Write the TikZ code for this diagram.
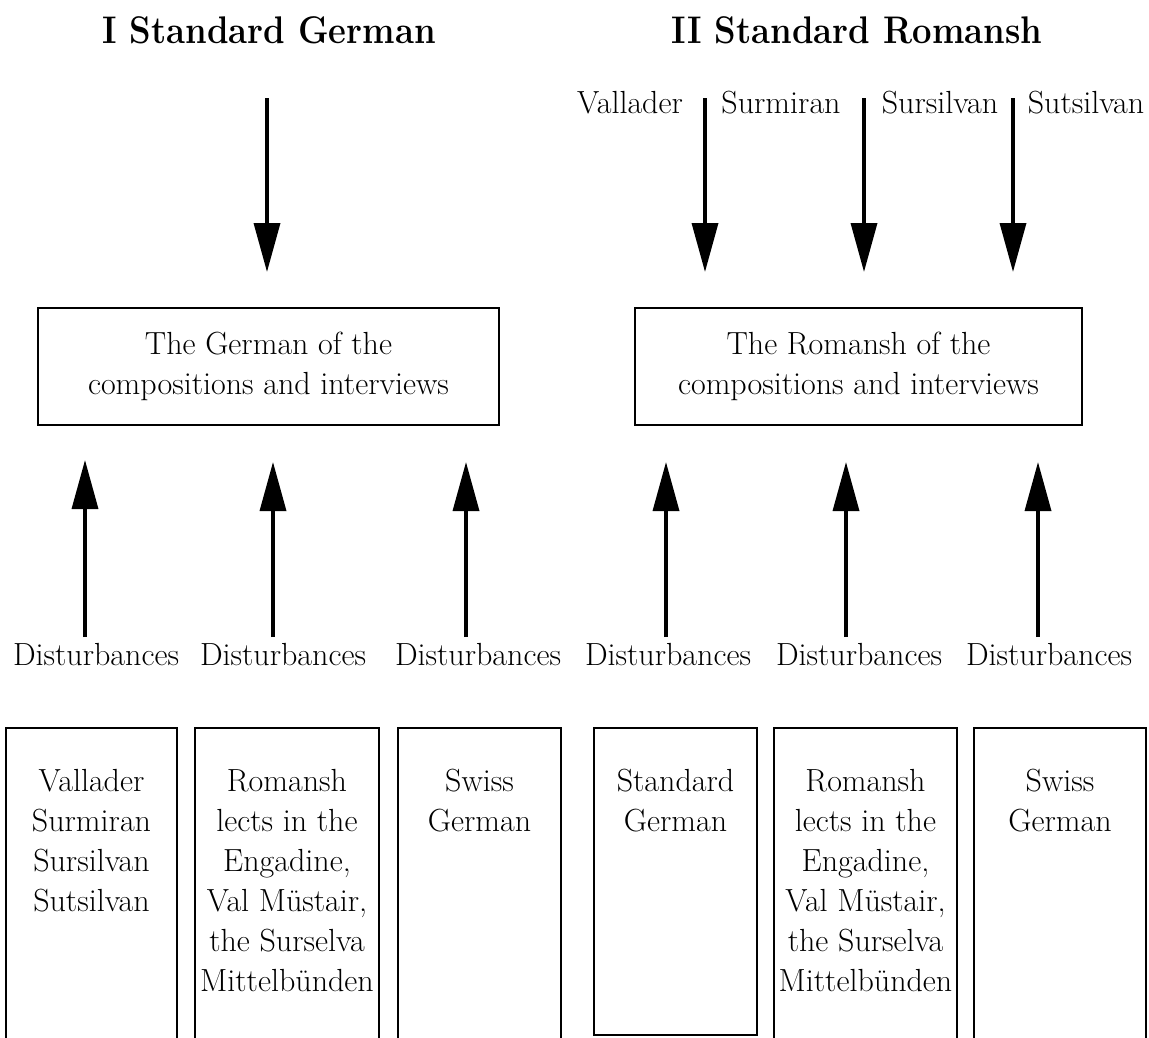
\documentclass[tikz,border=0pt]{standalone}
\usepackage{fontspec}
\usepackage{graphicx}
\usetikzlibrary{arrows.meta}
\tikzset{
  bigarrow/.style={line width=3.5pt, -{Triangle[length=49pt,width=26pt]}},
  boxframe/.style={draw, line width=1.8pt, inner sep=0pt},
  txt/.style={font=\fontsize{32}{40}\selectfont\addfontfeature{FakeBold=0.6}, inner sep=0pt},
  lbl/.style={txt, anchor=base},
  ttl/.style={font=\fontsize{38.5}{44}\selectfont\bfseries, inner sep=0pt, anchor=base},
  midbox/.style={boxframe, txt, align=center, minimum height=117pt},
  lowbox/.style={boxframe, anchor=north},
  lowtext/.style={txt, align=center, anchor=north}
}
\begin{document}
\begin{tikzpicture}[x=1pt,y=-1pt]
\path[use as bounding box, clip] (0,0) rectangle (1149,1037);
\fill[white] (0,0) rectangle (1149,1037);

% titles
\node[ttl] (t1) at (269,43) {\scalebox{0.9}[1]{I Standard German}};
\node[ttl] (t2) at (857,43) {\scalebox{0.9}[1]{II Standard Romansh}};

% top labels (right group)
\node[lbl] (vall) at (630,113) {Vallader};
\node[lbl] (surm) at (781,113) {Surmiran};
\node[lbl] (sursil) at (940,113) {Sursilvan};
\node[lbl] (sutsil) at (1086,113) {Sutsilvan};

% middle boxes
\node[midbox, minimum width=461pt] (gbox) at (268.5,366.5) {The German of the\\compositions and interviews};
\node[midbox, minimum width=447pt] (rbox) at (858.5,366.5) {The Romansh of the\\compositions and interviews};

% top arrows
\coordinate (gs) at (267,98);  \coordinate (ge) at (267,272);
\coordinate (r1s) at (705,98); \coordinate (r1e) at (705,272);
\coordinate (r2s) at (864,98); \coordinate (r2e) at (864,272);
\coordinate (r3s) at (1013,98); \coordinate (r3e) at (1013,272);
\draw[bigarrow] (gs) -- (ge);
\draw[bigarrow] (r1s) -- (r1e);
\draw[bigarrow] (r2s) -- (r2e);
\draw[bigarrow] (r3s) -- (r3e);

% upward arrows
\coordinate (u1s) at (85,637);   \coordinate (u1e) at (85,460);
\coordinate (u2s) at (273,637);  \coordinate (u2e) at (273,462);
\coordinate (u3s) at (466,637);  \coordinate (u3e) at (466,462);
\coordinate (u4s) at (666,637);  \coordinate (u4e) at (666,462);
\coordinate (u5s) at (846,637);  \coordinate (u5e) at (846,462);
\coordinate (u6s) at (1038,637); \coordinate (u6e) at (1038,462);
\draw[bigarrow] (u1s) -- (u1e);
\draw[bigarrow] (u2s) -- (u2e);
\draw[bigarrow] (u3s) -- (u3e);
\draw[bigarrow] (u4s) -- (u4e);
\draw[bigarrow] (u5s) -- (u5e);
\draw[bigarrow] (u6s) -- (u6e);

% Disturbances
\node[lbl] (d1) at (96,665) {Disturbances};
\node[lbl] (d2) at (283,665) {Disturbances};
\node[lbl] (d3) at (478,665) {Disturbances};
\node[lbl] (d4) at (668,665) {Disturbances};
\node[lbl] (d5) at (859,665) {Disturbances};
\node[lbl] (d6) at (1049,665) {Disturbances};

% bottom boxes
\node[lowbox, minimum width=171pt, minimum height=330pt] (b1) at (91.5,727) {};
\node[lowbox, minimum width=184pt, minimum height=330pt] (b2) at (287,727) {};
\node[lowbox, minimum width=163pt, minimum height=330pt] (b3) at (479.5,727) {};
\node[lowbox, minimum width=163pt, minimum height=307pt] (b4) at (675.5,727) {};
\node[lowbox, minimum width=183pt, minimum height=330pt] (b5) at (865.5,727) {};
\node[lowbox, minimum width=172pt, minimum height=330pt] (b6) at (1060,727) {};

\node[lowtext] (b1t) at (91.5,769) {Vallader\\Surmiran\\Sursilvan\\Sutsilvan};
\node[lowtext] (b2t) at (287,769) {Romansh\\lects in the\\Engadine,\\Val Müstair,\\the Surselva\\Mittelbünden};
\node[lowtext] (b3t) at (479.5,769) {Swiss\\German};
\node[lowtext] (b4t) at (675.5,769) {Standard\\German};
\node[lowtext] (b5t) at (865.5,769) {Romansh\\lects in the\\Engadine,\\Val Müstair,\\the Surselva\\Mittelbünden};
\node[lowtext] (b6t) at (1060,769) {Swiss\\German};
\end{tikzpicture}
\end{document}
